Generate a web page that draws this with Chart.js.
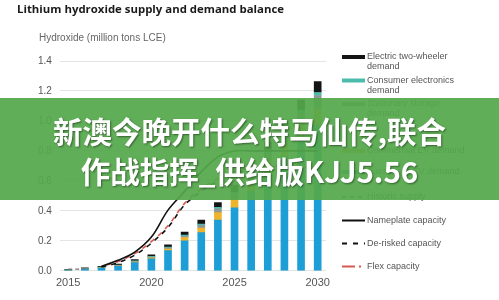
<!DOCTYPE html>
<html>
<head>
<meta charset="utf-8">
<script src="https://cdn.jsdelivr.net/npm/chart.js@4.4.1/dist/chart.umd.min.js"></script>
<style>
  html, body { margin: 0; padding: 0; background: #fff; }
  #wrap { position: relative; width: 499px; height: 300px; overflow: hidden; }
  #banner {
    position: absolute; left: 0; top: 98px; width: 499px; height: 102px;
    box-sizing: border-box; padding-top: 12px;
    background: rgba(84, 168, 74, 0.93);
    color: #fff; font-family: "Noto Sans CJK SC", sans-serif; font-weight: 700;
    font-size: 29.5px; line-height: 40px; text-align: center;
    text-shadow: 1px 1px 2px rgba(0, 0, 0, 0.45);
  }
</style>
</head>
<body>
<div id="wrap">
  <canvas id="chart" width="499" height="300"></canvas>
  <div id="banner">新澳今晚开什么特马仙传,联合<br>作战指挥_供给版KJJ5.56</div>
</div>
<script>
const years = ['2015','2016','2017','2018','2019','2020','2021','2022',
               '2023','2024','2025','2026','2027','2028','2029','2030'];

// demand (million tons LCE), stacked bottom -> top
const passengerEV  = [0.003,0.010,0.018,0.030,0.055,0.080,0.135,0.200,0.255,0.338,0.420,0.530,0.650,0.760,0.880,0.970];
const commercialEV = [0.000,0.000,0.001,0.002,0.003,0.006,0.010,0.022,0.030,0.050,0.055,0.070,0.080,0.090,0.100,0.110];
const stationary   = [0.001,0.001,0.002,0.003,0.004,0.005,0.008,0.010,0.018,0.025,0.035,0.045,0.050,0.060,0.070,0.090];
const consumerElec = [0.003,0.004,0.004,0.004,0.004,0.005,0.006,0.007,0.008,0.010,0.012,0.014,0.016,0.018,0.020,0.020];
const twoWheeler   = [0.003,0.005,0.005,0.006,0.009,0.011,0.014,0.020,0.027,0.033,0.050,0.060,0.065,0.070,0.070,0.073];

// supply lines
const historicSupply = [0.010,0.012,null,null,null,null,null,null,null,null,null,null,null,null,null,null];
const nameplate = [null,null,0.030,0.070,0.125,0.225,0.405,0.530,0.660,0.760,0.800,0.800,0.800,0.800,0.800,0.800];
const deRisked  = [null,null,0.025,0.055,0.105,0.185,0.290,0.440,0.530,0.600,0.650,0.670,0.680,0.680,0.680,0.680];
const flexCap   = [null,null,0.030,0.062,0.115,0.195,0.300,0.450,0.545,0.615,0.665,0.685,0.695,0.695,0.695,0.695];

const yTicks = [0, 0.2, 0.4, 0.6, 0.8, 1.0, 1.2, 1.4];
const xTickLabels = ['2015', '2020', '2025', '2030'];

const blue = '#1d9ed6', gold = '#f0b42c', grey = '#8c9996', teal = '#4bbcab', black = '#141414';
const red = '#d45a52';

const legendItems = [
  { label: ['Electric two-wheeler', 'demand'], ds: 'Electric two-wheeler demand', y: 57 },
  { label: ['Consumer electronics', 'demand'], ds: 'Consumer electronics demand', y: 80.5 },
  { label: ['Stationary storage', 'demand'], ds: 'Stationary storage demand', y: 104 },
  { label: ['Commercial EV demand'], ds: 'Commercial EV demand', y: 151 },
  { label: ['Passenger EV demand'], ds: 'Passenger EV demand', y: 172 },
  { label: ['Historic supply'], ds: 'Historic supply', y: 197 },
  { label: ['Nameplate capacity'], ds: 'Nameplate capacity', y: 220.5 },
  { label: ['De-risked capacity'], ds: 'De-risked capacity', y: 243.5 },
  { label: ['Flex capacity'], ds: 'Flex capacity', y: 266.5 }
];

const headerAndLegend = {
  id: 'headerAndLegend',
  afterDraw(chart) {
    const ctx = chart.ctx;
    ctx.save();
    ctx.textBaseline = 'middle';
    ctx.textAlign = 'left';
    ctx.fillStyle = '#1a1a1a';
    ctx.font = 'bold 11.4px "Open Sans"';
    ctx.fillText('Lithium hydroxide supply and demand balance', 17, 10);
    ctx.fillStyle = '#666';
    ctx.font = '10px "Liberation Sans"';
    ctx.fillText('Hydroxide (million tons LCE)', 39, 38);

    ctx.font = '9px "Liberation Sans"';
    legendItems.forEach(item => {
      const ds = chart.data.datasets.find(d => d.label === item.ds);
      const x0 = 342, x1 = 365;
      if (ds.type === 'line') {
        ctx.strokeStyle = ds.borderColor;
        ctx.lineWidth = 2;
        ctx.setLineDash(ds.legendDash || []);
        ctx.beginPath();
        ctx.moveTo(x0, item.y);
        ctx.lineTo(x1, item.y);
        ctx.stroke();
        ctx.setLineDash([]);
      } else {
        ctx.fillStyle = ds.backgroundColor;
        ctx.fillRect(x0, item.y - 2, x1 - x0, 4);
      }
      ctx.fillStyle = '#555';
      item.label.forEach((t, i) => ctx.fillText(t, 367, item.y + i * 10));
    });
    ctx.restore();
  }
};

const lineBase = { type: 'line', pointRadius: 0, fill: false, tension: 0.35, order: 0 };

new Chart(document.getElementById('chart').getContext('2d'), {
  type: 'bar',
  data: {
    labels: years,
    datasets: [
      { ...lineBase, label: 'Nameplate capacity', data: nameplate, borderColor: '#111', borderWidth: 1.6, stack: 'l1' },
      { ...lineBase, label: 'Flex capacity', data: flexCap, borderColor: red, borderWidth: 1.6, borderDash: [5, 5], borderDashOffset: 5, legendDash: [13, 4, 2, 10], stack: 'l2' },
      { ...lineBase, label: 'De-risked capacity', data: deRisked, borderColor: '#111', borderWidth: 1.6, borderDash: [5, 5], legendDash: [5, 6], stack: 'l3' },
      { ...lineBase, label: 'Historic supply', data: historicSupply, borderColor: '#777', borderWidth: 1.4, borderDash: [4, 3], legendDash: [4, 4], stack: 'l4' },
      { label: 'Passenger EV demand', data: passengerEV, backgroundColor: blue, order: 1 },
      { label: 'Commercial EV demand', data: commercialEV, backgroundColor: gold, order: 1 },
      { label: 'Stationary storage demand', data: stationary, backgroundColor: grey, order: 1 },
      { label: 'Consumer electronics demand', data: consumerElec, backgroundColor: teal, order: 1 },
      { label: 'Electric two-wheeler demand', data: twoWheeler, backgroundColor: black, order: 1 }
    ]
  },
  options: {
    responsive: false,
    animation: false,
    devicePixelRatio: 1,
    layout: { padding: { left: 30, right: 173, top: 61, bottom: 4 } },
    datasets: { bar: { barThickness: 7 } },
    plugins: { legend: { display: false }, tooltip: { enabled: false }, title: { display: false } },
    scales: {
      x: {
        stacked: true,
        grid: { display: false, drawTicks: false },
        border: { display: false },
        ticks: {
          autoSkip: false, maxRotation: 0, color: '#555', padding: 6,
          font: { family: 'Liberation Sans', size: 11 },
          callback: (v, i) => xTickLabels.includes(years[i]) ? years[i] : ''
        }
      },
      y: {
        stacked: true,
        min: 0, max: 1.4,
        afterBuildTicks: axis => { axis.ticks = yTicks.map(v => ({ value: v })); },
        grid: { color: '#e4e4e4', drawTicks: false },
        border: { display: false },
        ticks: {
          color: '#555', padding: 8,
          font: { family: 'Liberation Sans', size: 10 },
          callback: v => v.toFixed(1)
        }
      }
    }
  },
  plugins: [headerAndLegend]
});
</script>
</body>
</html>
